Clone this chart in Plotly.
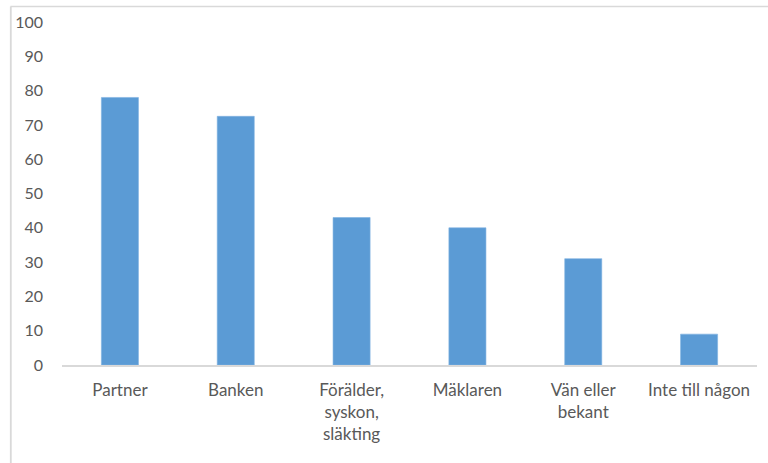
import plotly.graph_objects as go

# Survey answers: who did you turn to (percent)
categories = ["Partner", "Banken", "Förälder,<br>syskon,<br>släkting", "Mäklaren",
              "Vän eller<br>bekant", "Inte till någon"]
values = [78, 72.5, 43, 40, 31, 9]
y_ticks = [0, 10, 20, 30, 40, 50, 60, 70, 80, 90, 100]

W, H = 768, 463
ML, MR, MT, MB = 62, 11, 22, 98
TEXT = "#595959"
LINE = "#D9D9D9"

fig = go.Figure(go.Bar(
    x=categories, y=values,
    marker=dict(color="#5B9BD5", line=dict(color="#7FB2E0", width=0.6)),
    hoverinfo="x+y",
))

pw = W - ML - MR
ph = H - MT - MB


def px_x(p):
    return (p - ML) / pw


def px_y(p):
    return (H - MB - p) / ph


# chart-area frame: top and left edges
fig.add_shape(type="line", xref="paper", yref="paper",
              x0=px_x(10.5), x1=px_x(W + 5), y0=px_y(6.5), y1=px_y(6.5),
              line=dict(color=LINE, width=1.5), layer="below")
fig.add_shape(type="line", xref="paper", yref="paper",
              x0=px_x(10.8), x1=px_x(10.8), y0=px_y(6.5), y1=px_y(H + 5),
              line=dict(color=LINE, width=1.8), layer="below")

fig.update_layout(
    width=W, height=H,
    margin=dict(l=ML, r=MR, t=MT, b=MB, pad=0),
    paper_bgcolor="white", plot_bgcolor="white",
    bargap=0.68,
    showlegend=False,
    font=dict(family="Lato, 'Open Sans', sans-serif", size=16, color=TEXT),
    xaxis=dict(
        showgrid=False, zeroline=False,
        showline=True, linecolor=LINE, linewidth=1.5,
        tickangle=0, ticks="", ticklabelstandoff=9,
        tickfont=dict(size=17, color=TEXT),
    ),
    yaxis=dict(
        range=[0, 100], tickvals=y_ticks,
        showgrid=False, zeroline=False, showline=False,
        ticks="", ticklabelstandoff=18,
        tickfont=dict(size=16, color=TEXT),
    ),
)

fig.write_html("out.html")
